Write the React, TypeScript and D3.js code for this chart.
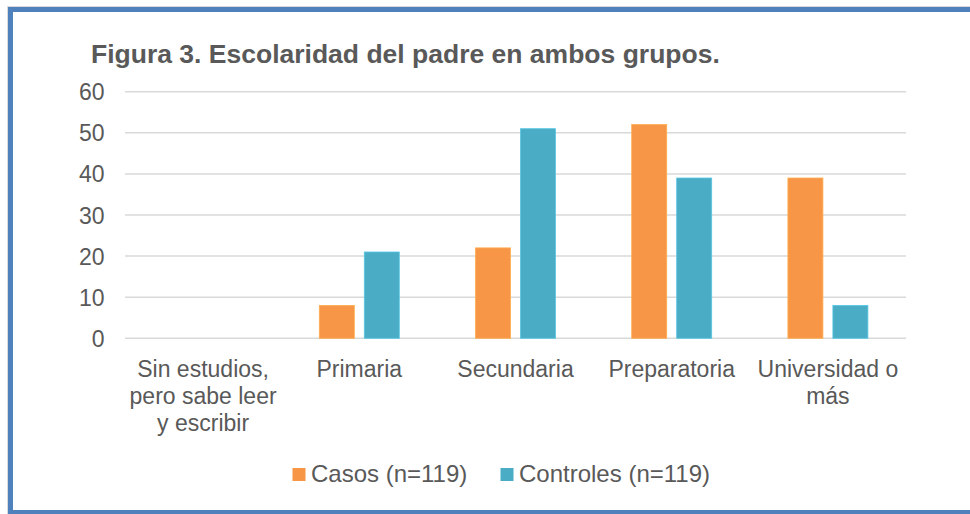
import React, { useEffect, useRef } from 'react';
import * as d3 from 'd3';

const categories = [
  'Sin estudios, pero sabe leer y escribir',
  'Primaria',
  'Secundaria',
  'Preparatoria',
  'Universidad o más',
];
// wrapped the way the original chart breaks them
const categoryLines = [
  ['Sin estudios,', 'pero sabe leer', 'y escribir'],
  ['Primaria'],
  ['Secundaria'],
  ['Preparatoria'],
  ['Universidad o', 'más'],
];
const seriesNames = ['Casos (n=119)', 'Controles (n=119)'];
const casos = [0, 8, 22, 52, 39];
const controles = [0, 21, 51, 39, 8];
const yTicks = [0, 10, 20, 30, 40, 50, 60];
const title = 'Figura 3. Escolaridad del padre en ambos grupos.';

const colors = ['#F79646', '#4BACC6'];
const textColor = '#595959';

function App() {
  const ref = useRef(null);
  const width = 970;
  const height = 514;

  useEffect(() => {
    if (!ref.current) return;
    d3.select(ref.current).select('svg').remove();

    const svg = d3.select(ref.current)
      .append('svg')
      .attr('width', width)
      .attr('height', height)
      .style('display', 'block')
      .style('font-family', '"Liberation Sans", Arial, sans-serif');

    svg.append('rect')
      .attr('width', width).attr('height', height).attr('fill', '#fff');

    // outer frame, faint shadow first
    svg.append('rect')
      .attr('x', 7.5).attr('y', 6.5)
      .attr('width', 990).attr('height', 520)
      .attr('fill', 'none')
      .attr('stroke', '#DADADA')
      .attr('stroke-width', 1);
    svg.append('rect')
      .attr('x', 10.5).attr('y', 9.5)
      .attr('width', 980).attr('height', 503)
      .attr('fill', 'none')
      .attr('stroke', '#4F81BD')
      .attr('stroke-width', 5);

    svg.append('text')
      .attr('x', 91).attr('y', 62.5)
      .attr('fill', textColor)
      .attr('font-size', 26.5)
      .attr('font-weight', 'bold')
      .text(title);

    const x0 = d3.scaleBand()
      .domain(categories)
      .range([125, 906]);
    const x1 = d3.scaleBand()
      .domain(seriesNames)
      .range([-40, 40])
      .paddingInner(0.222);
    const y = d3.scaleLinear()
      .domain([0, 60])
      .range([338.3, 91.7]);

    // gridlines + y labels
    const g = svg.append('g');
    g.selectAll('line.grid')
      .data(yTicks)
      .enter()
      .append('line')
      .attr('class', 'grid')
      .attr('x1', x0.range()[0]).attr('x2', x0.range()[1])
      .attr('y1', (d) => y(d)).attr('y2', (d) => y(d))
      .attr('stroke', '#D9D9D9')
      .attr('stroke-width', 1.5);
    g.selectAll('text.ytick')
      .data(yTicks)
      .enter()
      .append('text')
      .attr('class', 'ytick')
      .attr('x', 104.5)
      .attr('y', (d) => y(d) + 8.5)
      .attr('text-anchor', 'end')
      .attr('fill', textColor)
      .attr('font-size', 23)
      .text((d) => d);

    // bars
    const series = [casos, controles];
    series.forEach((vals, si) => {
      svg.append('g')
        .selectAll('rect')
        .data(vals)
        .enter()
        .append('rect')
        .attr('x', (_, i) => x0(categories[i]) + x0.bandwidth() / 2 + x1(seriesNames[si]))
        .attr('y', (d) => y(d))
        .attr('width', x1.bandwidth())
        .attr('height', (d) => y(0) - y(d))
        .attr('fill', colors[si])
        .attr('stroke', d3.color(colors[si]).brighter(0.4).toString())
        .attr('stroke-width', 0.8);
    });

    // category labels
    const xl = svg.append('g');
    categories.forEach((c, i) => {
      const t = xl.append('text')
        .attr('text-anchor', 'middle')
        .attr('fill', textColor)
        .attr('font-size', 23);
      categoryLines[i].forEach((line, li) => {
        t.append('tspan')
          .attr('x', x0(c) + x0.bandwidth() / 2)
          .attr('y', 376.5 + li * 27)
          .text(line);
      });
    });

    // legend
    const legendX = [292.5, 500.5];
    const legend = svg.append('g');
    seriesNames.forEach((s, i) => {
      legend.append('rect')
        .attr('x', legendX[i]).attr('y', 468)
        .attr('width', 13).attr('height', 13)
        .attr('fill', colors[i]);
      legend.append('text')
        .attr('x', legendX[i] + 18.5).attr('y', 481.5)
        .attr('fill', textColor)
        .attr('font-size', 24)
        .text(s);
    });
  }, []);

  return (
    <div style={{ position: 'absolute', left: 0, top: 0 }}>
      <div ref={ref}></div>
    </div>
  );
}

export default App;
